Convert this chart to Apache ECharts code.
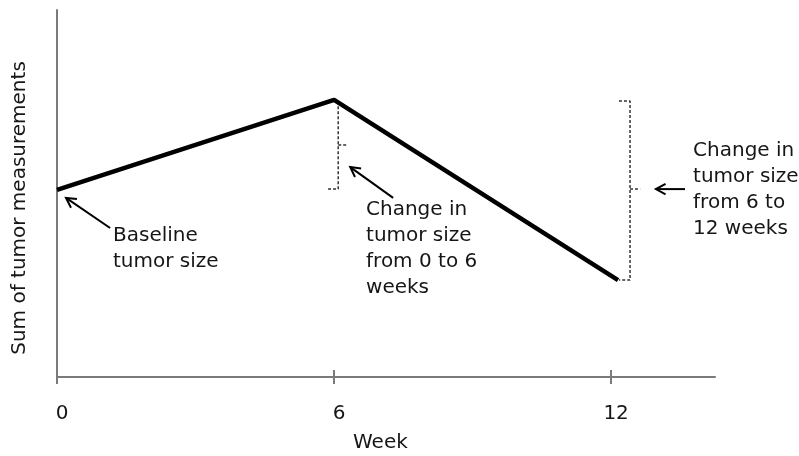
<!DOCTYPE html>
<html><head><meta charset="utf-8">
<script src="https://cdn.jsdelivr.net/npm/echarts@6/dist/echarts.min.js"></script>
<style>html,body{margin:0;padding:0;background:#fff}#c{width:799px;height:456px}</style>
</head><body><div id="c"></div>
<script>
// Data
const weeks = [0, 6, 12.15];
const tumorSum = [51, 75.5, 26.4];
const xTickValues = [0, 6, 12];
const xTickLabels = ['0', '6', '12'];
const xTitle = 'Week';
const yTitle = 'Sum of tumor measurements';
// brackets (dashed) in data coordinates
const bracket1 = [[5.87, 51.2], [6.09, 51.2], [6.09, 75.5]];
const bracket1Tick = [[6.09, 63.2], [6.30, 63.2]];
const bracket2 = [[12.17, 75.2], [12.41, 75.2], [12.41, 26.4], [12.17, 26.4]];
const bracket2Tick = [[12.41, 51.2], [12.63, 51.2]];
// arrows: [fromX, fromY, toX, toY]
const arrows = [[1.15, 40.6, 0.195, 48.8], [7.28, 48.8, 6.35, 57.2], [13.60, 51.2, 12.97, 51.2]];
// annotation texts, anchored at top-left
const notes = ['Baseline\ntumor size', 'Change in\ntumor size\nfrom 0 to 6\nweeks', 'Change in\ntumor size\nfrom 6 to\n12 weeks'];
const noteAnchors = [[1.213, 41.96], [6.693, 49.05], [13.775, 65.12]];

const FONT = 'DejaVu Sans';
const TXT = '#161616';
const chart = echarts.init(document.getElementById('c'));
const dashStyle = {color: '#333', width: 1.5, type: [3, 2]};
const dashSeries = (d) => ({type: 'line', data: d, symbol: 'none', lineStyle: dashStyle, silent: true, animation: false});

chart.setOption({
  animation: false,
  grid: {left: 57, right: 84, top: 10, bottom: 79},
  xAxis: [{
    type: 'value', min: 0, max: 14.25, interval: 6,
    axisLine: {lineStyle: {color: '#7a7a7a', width: 2}},
    axisTick: {length: 7, customValues: xTickValues, lineStyle: {color: '#7a7a7a', width: 2}},
    splitLine: {show: false},
    axisLabel: {margin: 27, padding: [0, 0, 0, 10], fontFamily: FONT, fontSize: 20, color: TXT,
      customValues: xTickValues,
      formatter: v => { const i = xTickValues.indexOf(v); return i >= 0 ? xTickLabels[i] : ''; }}
  }, {
    type: 'value', min: 0, max: 14.25, interval: 6, position: 'bottom',
    axisLine: {show: false},
    axisTick: {inside: true, length: 7, customValues: xTickValues, lineStyle: {color: '#7a7a7a', width: 2}},
    axisLabel: {show: false}, splitLine: {show: false}
  }],
  yAxis: {
    type: 'value', min: 0, max: 100,
    axisLine: {show: true, lineStyle: {color: '#7a7a7a', width: 2}},
    axisTick: {show: false}, axisLabel: {show: false}, splitLine: {show: false}
  },
  graphic: [
    {type: 'text', left: 353, top: 433, style: {text: xTitle, font: '20px "' + FONT + '"', fill: TXT}},
    {type: 'text', x: 20, y: 208, rotation: Math.PI / 2,
     style: {text: yTitle, font: '20px "' + FONT + '"', fill: TXT, align: 'center', verticalAlign: 'middle'}}
  ],
  series: [
    {type: 'line', data: weeks.map((w, i) => [w, tumorSum[i]]), symbol: 'none',
     lineStyle: {color: '#000', width: 4.5}, z: 5},
    dashSeries(bracket1), dashSeries(bracket1Tick), dashSeries(bracket2), dashSeries(bracket2Tick),
    {type: 'custom', data: arrows, encode: {x: [0, 2], y: [1, 3]}, clip: false, z: 6,
     renderItem: (params, api) => {
       const a = api.coord([api.value(0), api.value(1)]);
       const b = api.coord([api.value(2), api.value(3)]);
       const ang = Math.atan2(b[1] - a[1], b[0] - a[0]);
       const L = 11, s = 0.5;
       const h1 = [b[0] - L * Math.cos(ang - s), b[1] - L * Math.sin(ang - s)];
       const h2 = [b[0] - L * Math.cos(ang + s), b[1] - L * Math.sin(ang + s)];
       const st = {stroke: '#000', lineWidth: 2, fill: null};
       return {type: 'group', children: [
         {type: 'polyline', shape: {points: [a, b]}, style: st},
         {type: 'polyline', shape: {points: [h1, b, h2]}, style: st}
       ]};
     }},
    {type: 'custom', data: noteAnchors.map((p, i) => [p[0], p[1], i]), clip: false, z: 6,
     renderItem: (params, api) => {
       const p = api.coord([api.value(0), api.value(1)]);
       return {type: 'text', x: p[0], y: p[1],
         style: {text: notes[api.value(2)], font: '20px "' + FONT + '"', fill: TXT,
                 lineHeight: 26, align: 'left', verticalAlign: 'top'}};
     }}
  ]
});
</script></body></html>
